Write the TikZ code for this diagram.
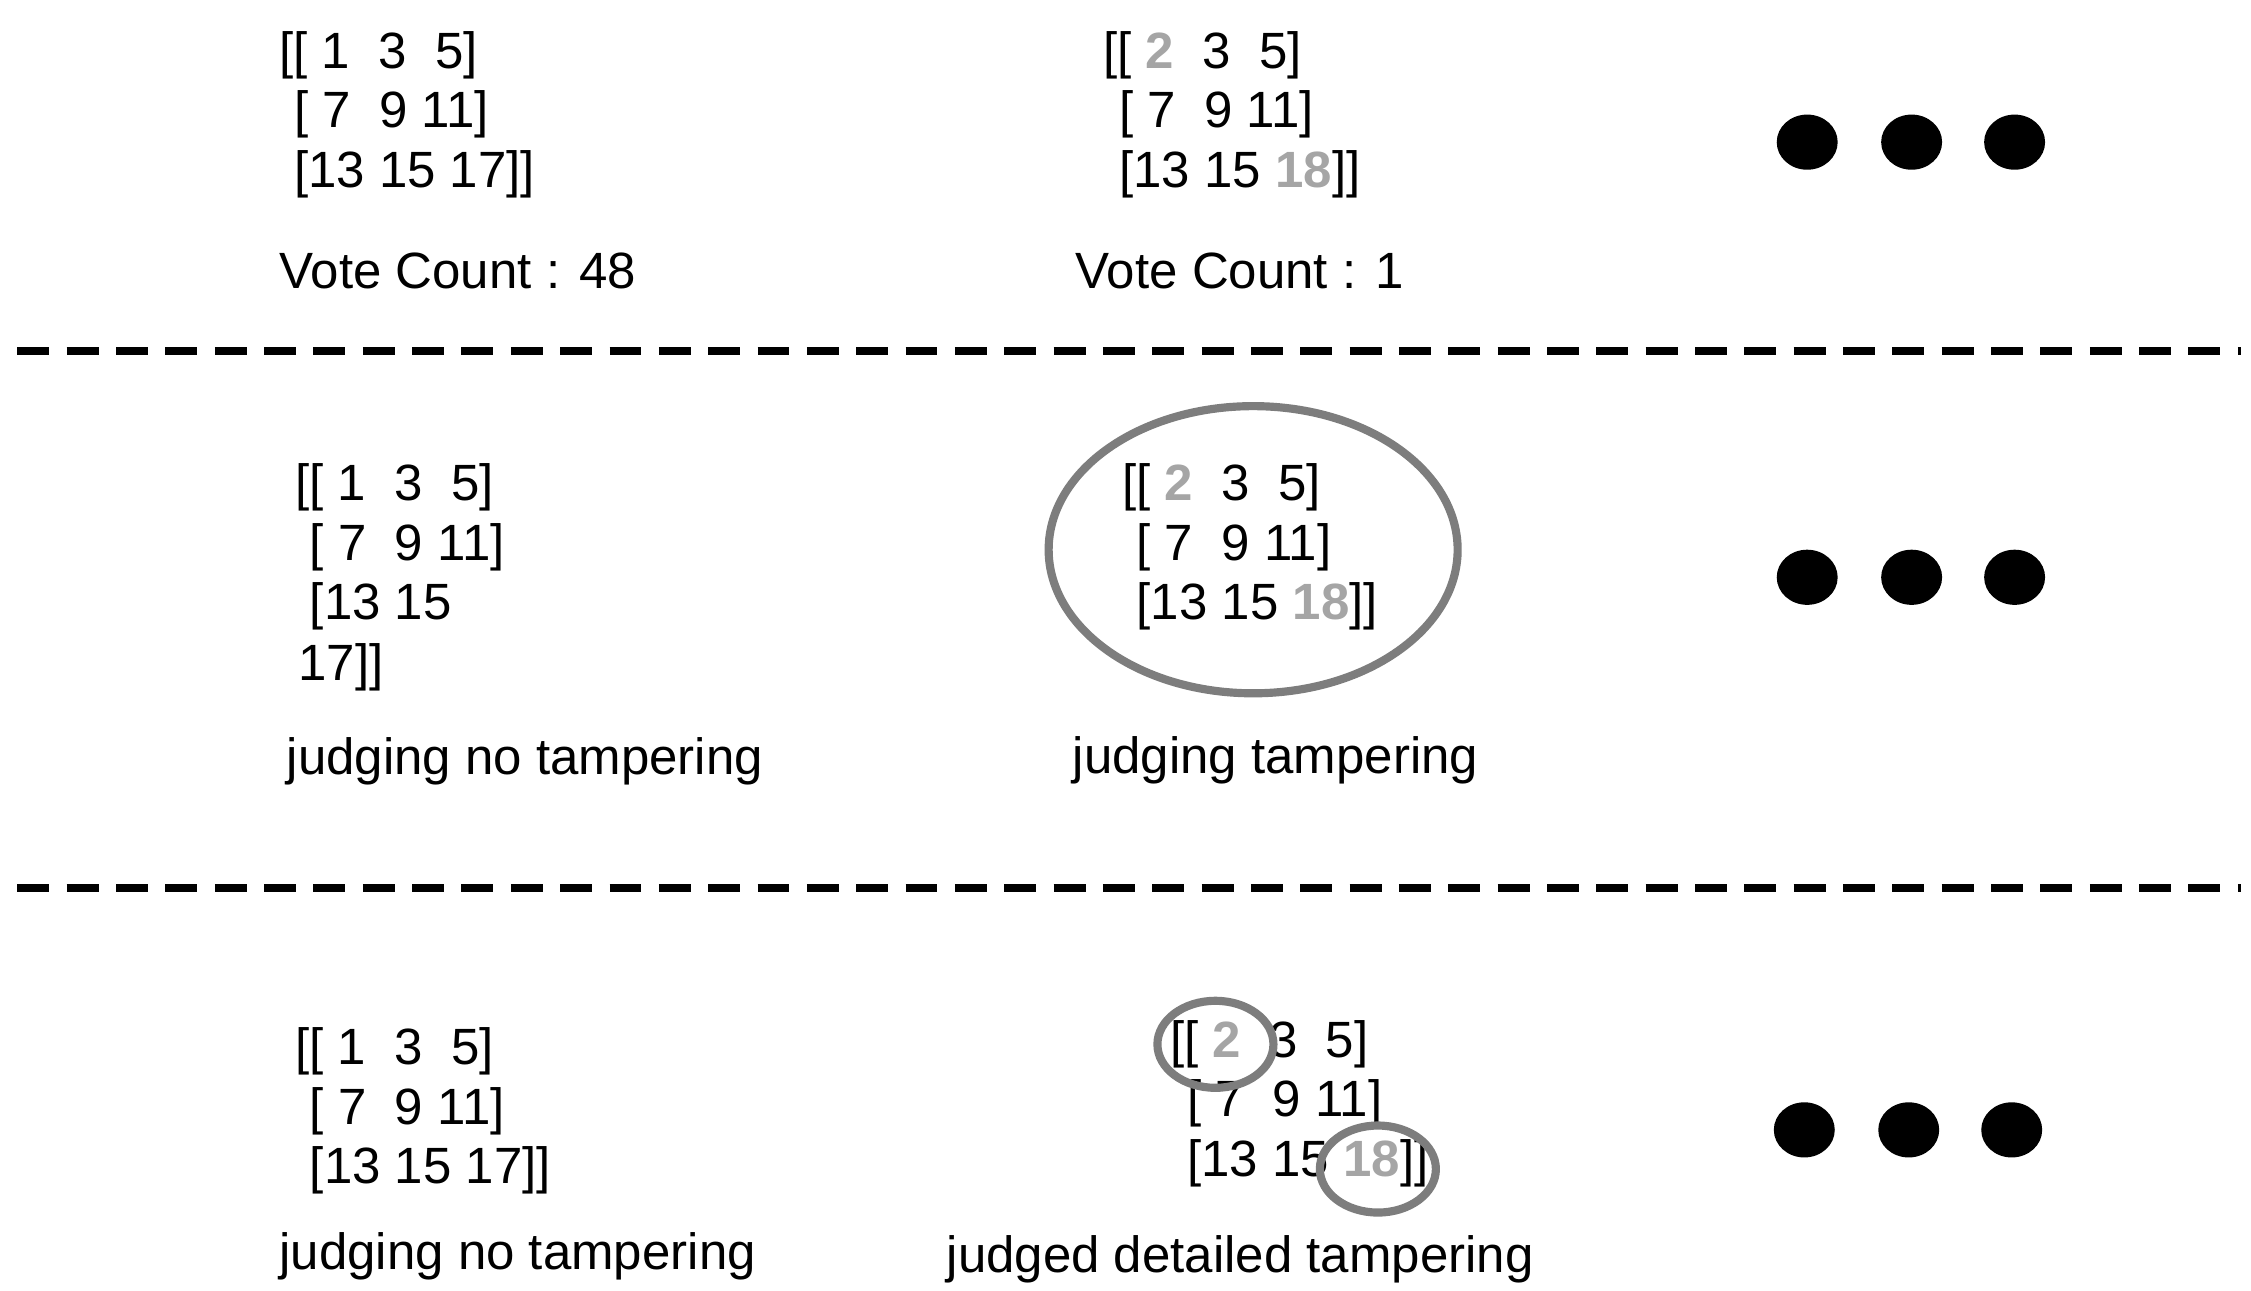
\documentclass[tikz,border=0pt]{standalone}
\usepackage{fontspec}
\usetikzlibrary{shapes.geometric}
\setmainfont{Liberation Sans}
\definecolor{gnum}{RGB}{165,165,165}
\definecolor{gring}{RGB}{125,125,125}
\newcommand{\gn}[1]{\textbf{\textcolor{gnum}{#1}}}
\begin{document}
\begin{tikzpicture}[x=0.01cm,y=-0.01cm,
  t/.style={anchor=west,inner sep=0pt,font=\fontsize{10}{12}\selectfont},
  dot/.style={fill=black,ellipse,minimum width=0.42cm,minimum height=0.38cm,inner sep=0pt},
  sep/.style={line width=1.6pt,dash pattern=on 0.22cm off 0.12cm},
  ring/.style={draw=gring,line width=1.6pt}]
\useasboundingbox (0,0) rectangle (1552,890);
% row 1
\node[t] (a1) at (192,38) {[[\ 1\ \ 3\ \ 5]};
\node[t] (a2) at (202,79) {[\ 7\ \ 9 11]};
\node[t] (a3) at (202,120) {[13 15 17]]};
\node[t] (a4) at (192,187) {Vote Count : 48};
\node[t] (b1) at (760,38) {[[\ \gn{2}\ \ 3\ \ 5]};
\node[t] (b2) at (771,79) {[\ 7\ \ 9 11]};
\node[t] (b3) at (771,120) {[13 15 \gn{18}]]};
\node[t] (b4) at (741,187) {Vote Count : 1};
\node[dot] (d1) at (1246,98) {};
\node[dot] (d2) at (1318,98) {};
\node[dot] (d3) at (1389,98) {};
\coordinate (s1) at (12,242); \coordinate (s2) at (1545,242);
\draw[sep] (s1) -- (s2);
% row 2
\node[t] (c1) at (203,336) {[[\ 1\ \ 3\ \ 5]};
\node[t] (c2) at (213,377) {[\ 7\ \ 9 11]};
\node[t] (c3) at (213,418) {[13 15};
\node[t] (c4) at (205,460) {17]]};
\node[t] (c5) at (197,525) {judging no tampering};
\node[t] (e1) at (773,336) {[[\ \gn{2}\ \ 3\ \ 5]};
\node[t] (e2) at (783,377) {[\ 7\ \ 9 11]};
\node[t] (e3) at (783,418) {[13 15 \gn{18}]]};
\node[t] (e4) at (739,524) {judging tampering};
\draw[ring] (864,379) ellipse [x radius=141,y radius=99];
\node[dot] (f1) at (1246,398) {};
\node[dot] (f2) at (1318,398) {};
\node[dot] (f3) at (1389,398) {};
\coordinate (s3) at (12,612); \coordinate (s4) at (1545,612);
\draw[sep] (s3) -- (s4);
% row 3
\node[t] (g1) at (203,725) {[[\ 1\ \ 3\ \ 5]};
\node[t] (g2) at (213,766) {[\ 7\ \ 9 11]};
\node[t] (g3) at (213,807) {[13 15 17]]};
\node[t] (g4) at (192,866) {judging no tampering};
\node[t] (h1) at (806,720) {[[\ \gn{2}\ \ 3\ \ 5]};
\node[t] (h2) at (818,761) {[\ 7\ \ 9 11]};
\node[t] (h3) at (818,802) {[13 15 \gn{18}]]};
\node[t] (h4) at (652,868) {judged detailed tampering};
\draw[ring] (838,720) ellipse [x radius=40,y radius=30];
\draw[ring] (950,806) ellipse [x radius=40,y radius=30];
\node[dot] (k1) at (1244,779) {};
\node[dot] (k2) at (1316,779) {};
\node[dot] (k3) at (1387,779) {};
\end{tikzpicture}
\end{document}
